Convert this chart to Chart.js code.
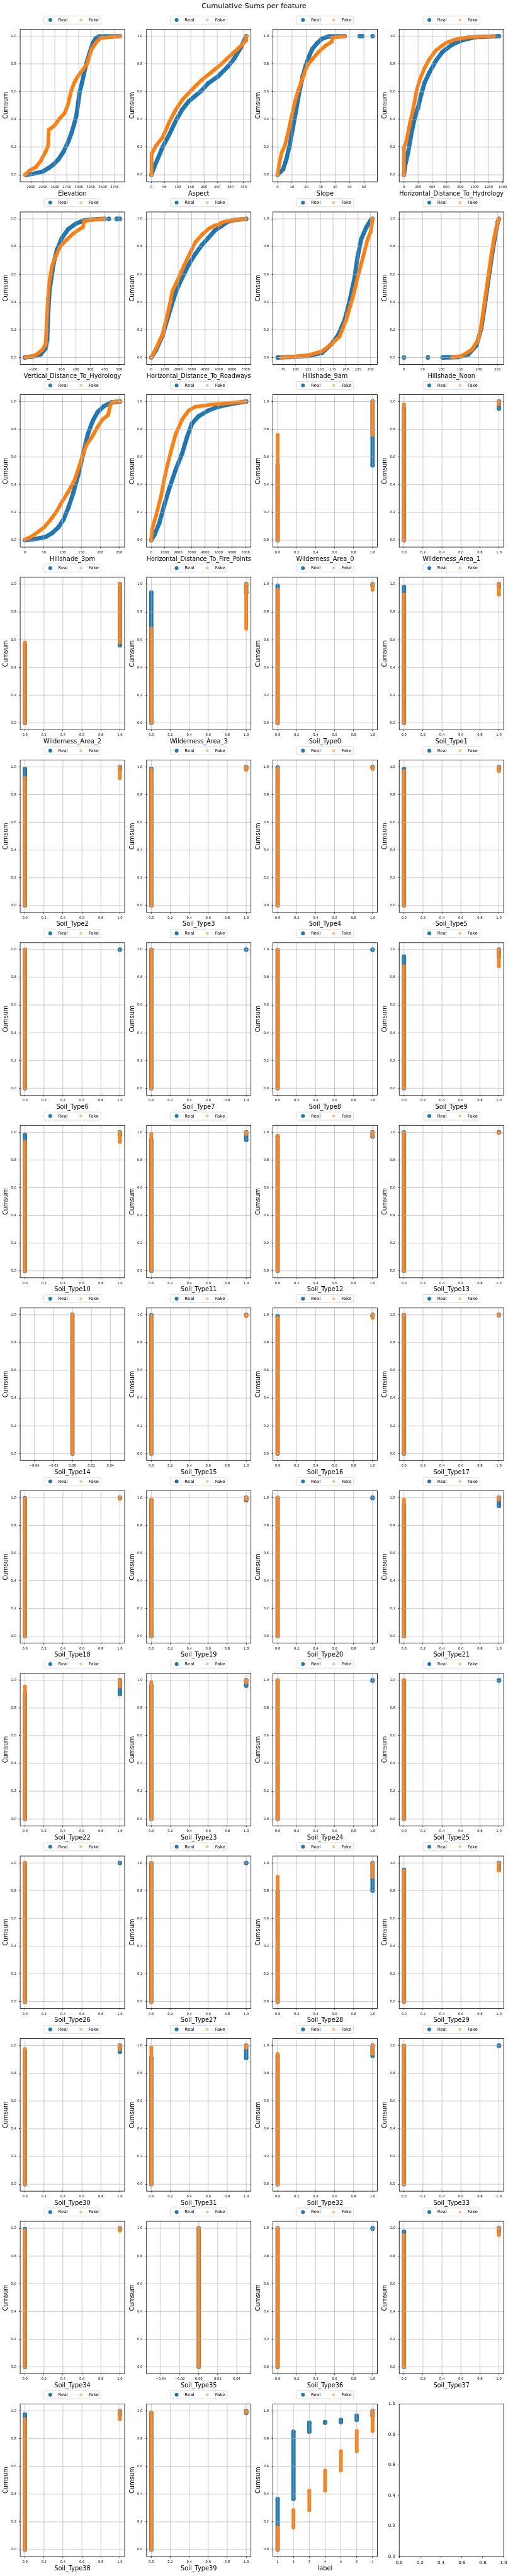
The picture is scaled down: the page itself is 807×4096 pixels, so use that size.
<!DOCTYPE html>
<html><head><meta charset="utf-8">
<script src="https://cdn.jsdelivr.net/npm/chart.js@4.4.1/dist/chart.umd.min.js"></script>
<style>
html,body{margin:0;padding:0;background:#fff;}
#fig{position:relative;width:807px;height:4096px;overflow:hidden;background:#fff;}
#title{position:absolute;left:0;width:807px;top:3px;line-height:13px;text-align:center;font-family:'DejaVu Sans',sans-serif;font-size:11.35px;color:#000;}
canvas{position:absolute;}
</style></head><body>
<div id="fig"><div id="title">Cumulative Sums per feature</div></div>
<script>
// ---------------- DATA ----------------
const seriesNames = ['Real', 'Fake'];
const cumsumTicks = [0, 0.2, 0.4, 0.6, 0.8, 1.0];

const elevationReal = [[1890,0],[2034,0.007],[2238,0.023],[2374,0.05],[2476,0.076],[2578,0.113],[2680,0.166],[2782,0.24],[2851,0.304],[2905,0.368],[2953,0.431],[2987,0.516],[3021,0.6],[3068,0.664],[3109,0.728],[3157,0.8],[3225,0.876],[3293,0.95],[3361,0.987],[3429,0.998],[3861,1.0]];
const elevationFake = [[1874,0],[1966,0.03],[2102,0.055],[2204,0.10],[2306,0.166],[2360,0.21],[2374,0.325],[2476,0.35],[2612,0.41],[2714,0.45],[2782,0.516],[2837,0.6],[2905,0.664],[2973,0.706],[3089,0.76],[3177,0.8],[3259,0.897],[3361,0.955],[3463,0.987],[3667,0.993],[3861,1.0]];
const elevationTicks = [2000,2250,2500,2750,3000,3250,3500,3750];

const aspectReal = [[0,0],[12,0.06],[43,0.2],[68,0.29],[93,0.39],[117,0.47],[142,0.53],[167,0.57],[192,0.61],[216,0.66],[253,0.71],[290,0.78],[315,0.84],[340,0.92],[360,1.0]];
const aspectFake = [[0,0],[1,0.15],[18,0.21],[43,0.27],[68,0.38],[93,0.47],[117,0.54],[142,0.59],[167,0.64],[192,0.685],[228,0.74],[266,0.80],[303,0.866],[340,0.93],[360,0.97],[360,1.0]];
const aspectTicks = [0,50,100,150,200,250,300,350];

const slopeReal = [[0,0],[3.8,0.04],[6,0.11],[8.3,0.21],[10.6,0.34],[12.9,0.47],[15.1,0.6],[17.4,0.71],[19.6,0.79],[21.9,0.855],[24.1,0.908],[27.5,0.95],[30.9,0.982],[35.4,0.998],[46.6,1.0],null,[57,1.0],[59,1.0],null,[66,1.0]];
const slopeFake = [[0,0],[1.1,0.08],[2.7,0.156],[5,0.21],[7.2,0.30],[9.5,0.41],[11.7,0.516],[14,0.6],[16.2,0.664],[18.5,0.728],[20.7,0.79],[24.1,0.834],[28.6,0.887],[33.1,0.93],[37.6,0.96],[38,0.99],[46.6,1.0]];
const slopeTicks = [0,10,20,30,40,50,60];

const hydroHReal = [[0,0],[14,0.06],[60,0.166],[106,0.30],[152,0.41],[199,0.484],[245,0.58],[291,0.664],[360,0.738],[453,0.823],[545,0.887],[684,0.94],[822,0.971],[1007,0.993],[1345,1.0]];
const hydroHFake = [[0,0],[0,0.2],[37,0.25],[83,0.37],[129,0.47],[176,0.6],[222,0.685],[291,0.77],[360,0.834],[453,0.898],[591,0.95],[730,0.977],[915,0.993],[1275,1.0]];
const hydroHTicks = [0,200,400,600,800,1000,1200,1400];

const hydroVReal = [[-155,0],[-102,0.007],[-45,0.023],[-11,0.066],[0,0.13],[7,0.32],[16,0.48],[29,0.575],[45,0.68],[68,0.777],[102,0.862],[147,0.926],[204,0.968],[260,0.99],[351,0.998],[400,1.0],null,[430,1.0],null,[483,1.0],[506,1.0]];
const hydroVFake = [[-151,0],[-79,0.018],[-34,0.055],[-11,0.098],[-5,0.214],[5,0.427],[16,0.555],[34,0.66],[57,0.725],[91,0.8],[136,0.85],[181,0.894],[226,0.926],[249,0.94],[256,0.984],[328,0.995],[396,1.0]];
const hydroVTicks = [-100,0,100,200,300,400,500];

const roadReal = [[0,0],[362,0.055],[845,0.16],[1328,0.32],[1810,0.47],[2293,0.575],[2776,0.67],[3258,0.745],[3741,0.81],[4224,0.862],[4707,0.915],[5189,0.947],[5672,0.979],[6155,0.992],[7050,1.0]];
const roadFake = [[0,0],[362,0.066],[845,0.17],[1328,0.363],[1569,0.48],[1931,0.554],[2414,0.66],[2897,0.756],[3258,0.83],[3741,0.883],[4224,0.926],[4707,0.952],[5100,0.96],[5189,0.973],[5672,0.984],[6155,0.992],[7000,1.0]];
const roadTicks = [0,1000,2000,3000,4000,5000,6000,7000];

const shade9Real = [[64,0],[74,0.002],[94,0.004],[127,0.013],[153,0.034],[172,0.098],[185,0.161],[198,0.268],[208,0.406],[218,0.575],[224,0.724],[231,0.851],[241,0.936],[251,0.995],[254,1.0]];
const shade9Fake = [[71,0],[94,0.005],[127,0.018],[153,0.045],[172,0.098],[188,0.151],[201,0.268],[214,0.427],[224,0.575],[234,0.713],[244,0.851],[250,0.904],[254,1.0]];
const shade9Ticks = [75,100,125,150,175,200,225,250];

const shadeNReal = [[0,0],null,[64,0],null,[103,0],[146,0.003],[172,0.023],[194,0.087],[207,0.214],[216,0.374],[225,0.544],[234,0.713],[242,0.851],[251,0.979],[254,1.0]];
const shadeNFake = [[129,0],[155,0.013],[181,0.055],[199,0.13],[207,0.236],[216,0.406],[225,0.575],[234,0.745],[242,0.873],[251,0.979],[254,1.0]];
const shadeNTicks = [0,50,100,150,200,250];

const shade3Real = [[0,0],[21,0.006],[38,0.014],[55,0.024],[72,0.051],[89,0.094],[102,0.147],[115,0.232],[128,0.339],[141,0.466],[154,0.616],[167,0.765],[180,0.86],[193,0.924],[210,0.967],[229,0.994],[252,1.0]];
const shade3Fake = [[0,0.005],[16,0.024],[33,0.056],[51,0.094],[68,0.147],[85,0.211],[98,0.275],[115,0.349],[132,0.434],[149,0.573],[162,0.68],[180,0.754],[193,0.818],[206,0.871],[221,0.903],[227,0.978],[236,0.999],[252,1.0]];
const shade3Ticks = [0,50,100,150,200,250];

const fireReal = [[0,0],[241,0.04],[603,0.126],[966,0.253],[1328,0.371],[1810,0.509],[2293,0.626],[2655,0.744],[3017,0.84],[3500,0.893],[4224,0.935],[4948,0.962],[5672,0.978],[6396,0.99],[7050,1.0]];
const fireFake = [[0,0],[72,0.083],[362,0.179],[724,0.317],[1086,0.498],[1448,0.636],[1810,0.764],[2293,0.871],[2776,0.935],[3258,0.962],[4465,0.978],[5672,0.988],[7000,1.0]];
const fireTicks = [0,1000,2000,3000,4000,5000,6000,7000];

const continuousNames = ['Elevation','Aspect','Slope','Horizontal_Distance_To_Hydrology','Vertical_Distance_To_Hydrology','Horizontal_Distance_To_Roadways','Hillshade_9am','Hillshade_Noon','Hillshade_3pm','Horizontal_Distance_To_Fire_Points'];

const binaryNames = ['Wilderness_Area_0','Wilderness_Area_1','Wilderness_Area_2','Wilderness_Area_3',
 'Soil_Type0','Soil_Type1','Soil_Type2','Soil_Type3','Soil_Type4','Soil_Type5','Soil_Type6','Soil_Type7','Soil_Type8','Soil_Type9',
 'Soil_Type10','Soil_Type11','Soil_Type12','Soil_Type13','Soil_Type14','Soil_Type15','Soil_Type16','Soil_Type17','Soil_Type18','Soil_Type19',
 'Soil_Type20','Soil_Type21','Soil_Type22','Soil_Type23','Soil_Type24','Soil_Type25','Soil_Type26','Soil_Type27','Soil_Type28','Soil_Type29',
 'Soil_Type30','Soil_Type31','Soil_Type32','Soil_Type33','Soil_Type34','Soil_Type35','Soil_Type36','Soil_Type37','Soil_Type38','Soil_Type39'];
// cumulative share of zeros (where the value jumps from 0 to 1)
const realZeroShare = [0.54,0.95,0.56,0.94, 0.99,0.98,0.985,0.985,0.995,0.985, 0.999,0.999,0.998,0.95, 0.98,0.945,0.97,0.998, 1,0.997,0.993,0.998, 0.995,0.982,0.997,0.94, 0.90,0.96,0.998,0.998, 0.998,0.998,0.80,0.95, 0.955,0.91,0.926,0.998, 0.995,1,0.998,0.975, 0.975,0.985];
const fakeZeroShare = [0.76,0.98,0.58,0.68, 0.96,0.925,0.92,0.978,0.985,0.97, 1,1,1,0.88, 0.93,0.988,0.975,0.997, 1,0.99,0.978,0.998, 0.993,0.987,1,0.985, 0.955,0.985,1,1, 1,1,0.90,0.945, 0.975,0.985,0.94,1, 0.983,1,1,0.952, 0.94,0.99];
const binaryTicks = [0,0.2,0.4,0.6,0.8,1.0];
const zeroOnlyTicks = [-0.04,-0.02,0,0.02,0.04];

const labelClasses = [1,2,3,4,5,6,7];
const labelRealBounds = [0,0.365,0.85,0.915,0.92,0.935,0.965,1.0];
const labelFakeBounds = [0,0.16,0.285,0.425,0.57,0.71,0.855,1.0];
const labelTicks = [1,2,3,4,5,6,7];

const emptyTicks = [0,0.2,0.4,0.6,0.8,1.0];

// ---------------- STYLE / LAYOUT ----------------
const S = 0.705;
const FONT = "'DejaVu Sans', sans-serif";
const REAL = '#1f77b4', FAKE = '#ff7f0e', FAKE_LEG = 'rgba(255,127,14,0.5)';
const RR = 3.4, RF = 2.9;

function fmt(v, dec){ const s = Math.abs(v).toFixed(dec); return (v < -1e-9 ? '\u2212' : '') + s; }
function toPoints(arr){ const out=[]; let lx=0; for(const p of arr){ if(p===null){ out.push({x:lx,y:null}); } else { out.push({x:p[0],y:p[1]}); lx=p[0]; } } return out; }
function binarySeries(p0){ return p0 < 1 ? [[0,0],[0,p0],null,[1,p0],[1,1]] : [[0,0],[0,1]]; }
function classSeries(bounds){ const a=[]; labelClasses.forEach((c,k)=>{ a.push([c,bounds[k]],[c,bounds[k+1]],null); }); return a; }
function xLimits(arrs){
  let mn=Infinity, mx=-Infinity;
  arrs.forEach(a=>a.forEach(p=>{ if(p){ mn=Math.min(mn,p[0]); mx=Math.max(mx,p[0]); } }));
  if (mx-mn < 1e-12){ return [mn-0.055, mx+0.055]; }
  const r = mx-mn; return [mn-0.05*r, mx+0.05*r];
}

const overlay = {
  id:'overlay',
  afterDatasetsDraw(chart, args, opts){
    const {ctx, chartArea:a, scales:{x,y}} = chart;
    ctx.save();
    if (opts.grid){
      ctx.strokeStyle='#b0b0b0'; ctx.lineWidth=0.7; ctx.beginPath();
      x.ticks.forEach(t=>{ const px=x.getPixelForValue(t.value); ctx.moveTo(px,a.top); ctx.lineTo(px,a.bottom); });
      y.ticks.forEach(t=>{ const py=y.getPixelForValue(t.value); ctx.moveTo(a.left,py); ctx.lineTo(a.right,py); });
      ctx.stroke();
    }
    ctx.strokeStyle='#000'; ctx.lineWidth=0.8;
    ctx.strokeRect(a.left,a.top,a.right-a.left,a.bottom-a.top);
    if (opts.legend){
      const bw=90.5, bh=12.9, cx=(a.left+a.right)/2, cy=a.top-14.7;
      const bl=cx-bw/2, bt=cy-bh/2;
      ctx.beginPath();
      if (ctx.roundRect) ctx.roundRect(bl,bt,bw,bh,2); else ctx.rect(bl,bt,bw,bh);
      ctx.fillStyle='rgba(255,255,255,0.8)'; ctx.fill();
      ctx.strokeStyle='#cccccc'; ctx.lineWidth=0.7; ctx.stroke();
      ctx.beginPath(); ctx.arc(bl+10.1,cy,3.05,0,Math.PI*2); ctx.fillStyle=REAL; ctx.fill();
      ctx.beginPath(); ctx.arc(bl+58.8,cy,2.35,0,Math.PI*2); ctx.fillStyle=FAKE_LEG; ctx.fill();
      ctx.fillStyle='#000'; ctx.font='7px '+FONT; ctx.textBaseline='middle'; ctx.textAlign='left';
      ctx.fillText(seriesNames[0], bl+22.8, cy+0.3);
      ctx.fillText(seriesNames[1], bl+71.2, cy+0.3);
    }
    ctx.restore();
  }
};

const fig = document.getElementById('fig');

function makeChart(idx, spec){
  const row=Math.floor(idx/4), col=idx%4;
  const pl=(45.5+col*284.7)*S, pt=(66+row*412)*S, pw=235.3*S, ph=344*S;
  const cl=Math.floor(pl-31), ct=Math.floor(pt-24);
  const L=pl-cl, T=pt-ct;
  const W=Math.ceil(L+pw+12), H=Math.ceil(T+ph+30);
  const Rp=W-(L+pw), Bp=H-(T+ph);
  const cv=document.createElement('canvas');
  cv.width=W; cv.height=H; cv.style.left=cl+'px'; cv.style.top=ct+'px'; cv.style.width=W+'px'; cv.style.height=H+'px';
  fig.appendChild(cv);
  const empty = !!spec.empty;
  const tickSize = empty ? 7 : 5.3;
  const xTitleSize=9.8, yTitleSize=9.6;
  const datasets = empty ? [] : [
    {label:seriesNames[1], data:toPoints(spec.fake), order:1, showLine:true, borderColor:FAKE, backgroundColor:FAKE,
     borderWidth:2*RF, pointRadius:RF, pointHoverRadius:RF, pointBorderWidth:0, pointBackgroundColor:FAKE,
     borderCapStyle:'round', borderJoinStyle:'round', tension:0, spanGaps:false},
    {label:seriesNames[0], data:toPoints(spec.real), order:2, showLine:true, borderColor:REAL, backgroundColor:REAL,
     borderWidth:2*RR, pointRadius:RR, pointHoverRadius:RR, pointBorderWidth:0, pointBackgroundColor:REAL,
     borderCapStyle:'round', borderJoinStyle:'round', tension:0, spanGaps:false}
  ];
  const xt=spec.xTicks, yt=empty?emptyTicks:cumsumTicks;
  const xl = empty ? [0,1] : xLimits([spec.real, spec.fake]);
  const yl = empty ? [0,1] : [-0.05,1.05];
  new Chart(cv, {
    type:'scatter',
    data:{datasets},
    options:{
      responsive:false, animation:false, devicePixelRatio:1, events:[],
      layout:{padding:{top:T,right:Rp,left:0,bottom:0}},
      plugins:{legend:{display:false}, tooltip:{enabled:false}, overlay:{grid:!empty, legend:!empty}},
      scales:{
        x:{type:'linear', min:xl[0], max:xl[1],
          afterFit(s){ s.height=Bp; },
          afterBuildTicks(s){ s.ticks=xt.map(v=>({value:v})); },
          ticks:{autoSkip:false, maxRotation:0, minRotation:0, padding:empty?4:3.3, color:'#000', font:{family:FONT,size:tickSize},
                 callback:(v)=>fmt(v,spec.xDec)},
          grid:{drawOnChartArea:false, drawTicks:true, tickLength:2, tickColor:'#000', tickWidth:0.7, lineWidth:0.7, color:'#000'},
          border:{display:false},
          title:{display:!empty, text:spec.name||'', color:'#000', font:{family:FONT,size:xTitleSize},
                 padding:{top:0,bottom:Math.max(0,Bp-19-xTitleSize*0.6)}}
        },
        y:{type:'linear', min:yl[0], max:yl[1],
          afterFit(s){ s.width=L; },
          afterBuildTicks(s){ s.ticks=yt.map(v=>({value:v})); },
          ticks:{autoSkip:false, padding:4.3, color:'#000', font:{family:FONT,size:tickSize}, callback:(v)=>fmt(v,1)},
          grid:{drawOnChartArea:false, drawTicks:true, tickLength:2, tickColor:'#000', tickWidth:0.7, lineWidth:0.7, color:'#000'},
          border:{display:false},
          title:{display:!empty, text:'Cumsum', color:'#000', font:{family:FONT,size:yTitleSize},
                 padding:{top:Math.max(0,L-22.6-yTitleSize*0.6),bottom:0}}
        }
      }
    },
    plugins:[overlay]
  });
}

const contReal = [elevationReal,aspectReal,slopeReal,hydroHReal,hydroVReal,roadReal,shade9Real,shadeNReal,shade3Real,fireReal];
const contFake = [elevationFake,aspectFake,slopeFake,hydroHFake,hydroVFake,roadFake,shade9Fake,shadeNFake,shade3Fake,fireFake];
const contTicks = [elevationTicks,aspectTicks,slopeTicks,hydroHTicks,hydroVTicks,roadTicks,shade9Ticks,shadeNTicks,shade3Ticks,fireTicks];

let idx=0;
continuousNames.forEach((n,i)=>{ makeChart(idx++, {name:n, real:contReal[i], fake:contFake[i], xTicks:contTicks[i], xDec:0}); });
binaryNames.forEach((n,i)=>{
  const allZero = realZeroShare[i]>=1 && fakeZeroShare[i]>=1;
  makeChart(idx++, {name:n, real:binarySeries(realZeroShare[i]), fake:binarySeries(fakeZeroShare[i]),
    xTicks: allZero?zeroOnlyTicks:binaryTicks, xDec: allZero?2:1});
});
makeChart(idx++, {name:'label', real:classSeries(labelRealBounds), fake:classSeries(labelFakeBounds), xTicks:labelTicks, xDec:0});
makeChart(idx++, {empty:true, xTicks:emptyTicks, xDec:1});
</script>
</body></html>
